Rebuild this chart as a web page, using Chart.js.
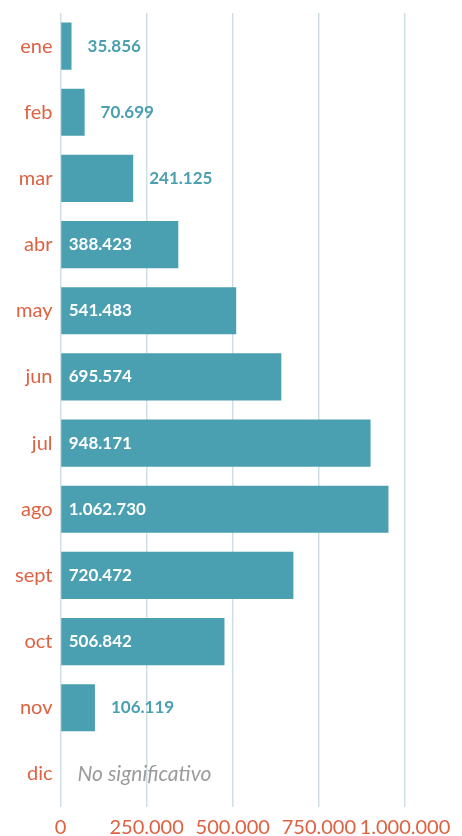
<!DOCTYPE html>
<html>
<head>
<meta charset="utf-8">
<script src="https://cdn.jsdelivr.net/npm/chart.js@4"></script>
<style>
  body { margin: 0; background: #fff; }
  #wrap { width: 462px; height: 836px; position: relative; }
</style>
</head>
<body>
<div id="wrap"><canvas id="BarCvs"></canvas></div>
<script>
// datos
const months = ['ene', 'feb', 'mar', 'abr', 'may', 'jun', 'jul', 'ago', 'sept', 'oct', 'nov', 'dic'];
// largo de barra (dic sin dato)
const values = [32000, 70000, 211000, 342000, 510000, 641000, 900000, 952000, 676000, 476000, 100000, null];
// cifras impresas junto a cada barra
const valueLabels = ['35.856', '70.699', '241.125', '388.423', '541.483', '695.574', '948.171', '1.062.730', '720.472', '506.842', '106.119', 'No significativo'];
const xTicks = [0, 250000, 500000, 750000, 1000000];

const teal = 'rgb(74, 159, 176)';
const orange = 'rgb(222, 98, 66)';

// etiquetas de valor
const valueLabelPlugin = {
  id: 'valueLabels',
  afterDatasetsDraw(chart) {
    const ctx = chart.ctx;
    const meta = chart.getDatasetMeta(0);
    const xScale = chart.scales.x;
    ctx.save();
    ctx.textBaseline = 'middle';
    ctx.textAlign = 'left';
    meta.data.forEach((bar, i) => {
      const v = values[i];
      const y = chart.scales.y.getPixelForValue(i);
      if (v === null) {
        ctx.font = 'italic 21px Lato';
        ctx.fillStyle = '#9b9b9b';
        ctx.fillText(valueLabels[i], xScale.getPixelForValue(0) + 17, y);
        return;
      }
      ctx.font = 'bold 17px Lato';
      if (v > 300000) {
        ctx.fillStyle = '#ffffff';
        ctx.fillText(valueLabels[i], bar.base + 7.5, y);
      } else {
        ctx.fillStyle = teal;
        ctx.fillText(valueLabels[i], bar.x + 16, y);
      }
    });
    ctx.restore();
  }
};

const barCtx = document.getElementById('BarCvs').getContext('2d');
const barConfig = {
  type: 'bar',
  data: {
    labels: months,
    datasets: [{
      data: values,
      backgroundColor: teal,
      borderWidth: 0,
      barPercentage: 0.8,
      categoryPercentage: 0.89,
    }]
  },
  options: {
    indexAxis: 'y',
    responsive: true,
    maintainAspectRatio: false,
    animation: false,
    layout: { padding: { top: 12, right: 57, left: 0, bottom: 0 } },
    plugins: { legend: { display: false }, tooltip: { enabled: false } },
    scales: {
      x: {
        min: 0,
        max: 1000000,
        afterBuildTicks(scale) {
          scale.ticks = xTicks.map(v => ({ value: v }));
        },
        afterFit(scale) { scale.height = 29; },
        border: { display: false },
        grid: { color: '#cfe0e4', lineWidth: 1.5, drawTicks: false },
        ticks: {
          color: orange,
          font: { family: 'Lato', size: 20 },
          padding: 9,
          autoSkip: false,
          maxRotation: 0,
          callback: v => v === 0 ? '0' : v.toLocaleString('de-DE'),
        }
      },
      y: {
        afterFit(scale) { scale.width = 60.5; },
        border: { display: false },
        grid: { display: false, drawTicks: false },
        ticks: {
          color: orange,
          font: { family: 'Lato', size: 20, lineHeight: 0.5 },
          padding: 8,
        }
      }
    }
  },
  plugins: [valueLabelPlugin]
};
const BarChart = new Chart(barCtx, barConfig);
</script>
</body>
</html>
